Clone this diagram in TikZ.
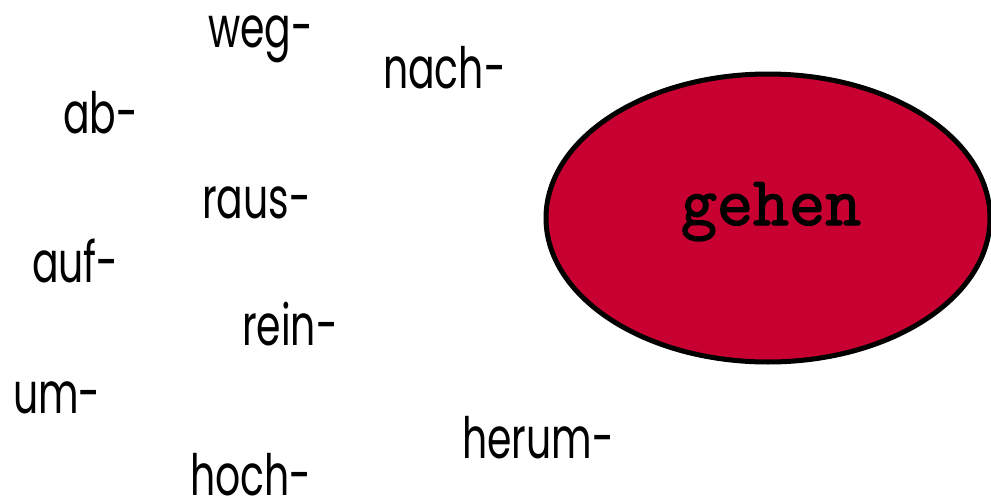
\documentclass[tikz,border=0pt]{standalone}
\usepackage{fontspec}
\setmainfont{Poppins}[FakeStretch=0.69]
\newfontfamily\slabmono{Latin Modern Mono}[FakeBold=2]
\usetikzlibrary{shapes.geometric}
\definecolor{verbred}{RGB}{200,0,50}
\tikzset{
  prefixword/.style={anchor=base west, inner sep=0pt, font=\fontsize{57}{62}\selectfont},
  verbblob/.style={ellipse, draw=black, line width=5pt, fill=verbred, inner sep=0pt,
    minimum width=444pt, minimum height=288pt},
  verbtext/.style={anchor=base, inner sep=0pt, font=\slabmono\fontsize{70}{76}\selectfont}
}
\begin{document}
\begin{tikzpicture}[x=1pt,y=-1pt]
  \useasboundingbox (0,0) rectangle (991,501);
  % the verb in its ellipse
  \node[verbblob] (blob) at (768,218) {};
  \node[verbtext] (gehen) at (771,225) {gehen};
  % separable prefixes scattered on the left
  \node[prefixword] (weg) at (208,47) {weg-};
  \node[prefixword] (nach) at (383,88) {nach-};
  \node[prefixword] (ab) at (63,133) {ab-};
  \node[prefixword] (raus) at (202,218) {raus-};
  \node[prefixword] (auf) at (32,282) {auf-};
  \node[prefixword] (rein) at (242,345) {rein-};
  \node[prefixword] (um) at (13,413) {um-};
  \node[prefixword] (herum) at (462,458) {herum-};
  \node[prefixword] (hoch) at (190,495) {hoch-};
\end{tikzpicture}
\end{document}
